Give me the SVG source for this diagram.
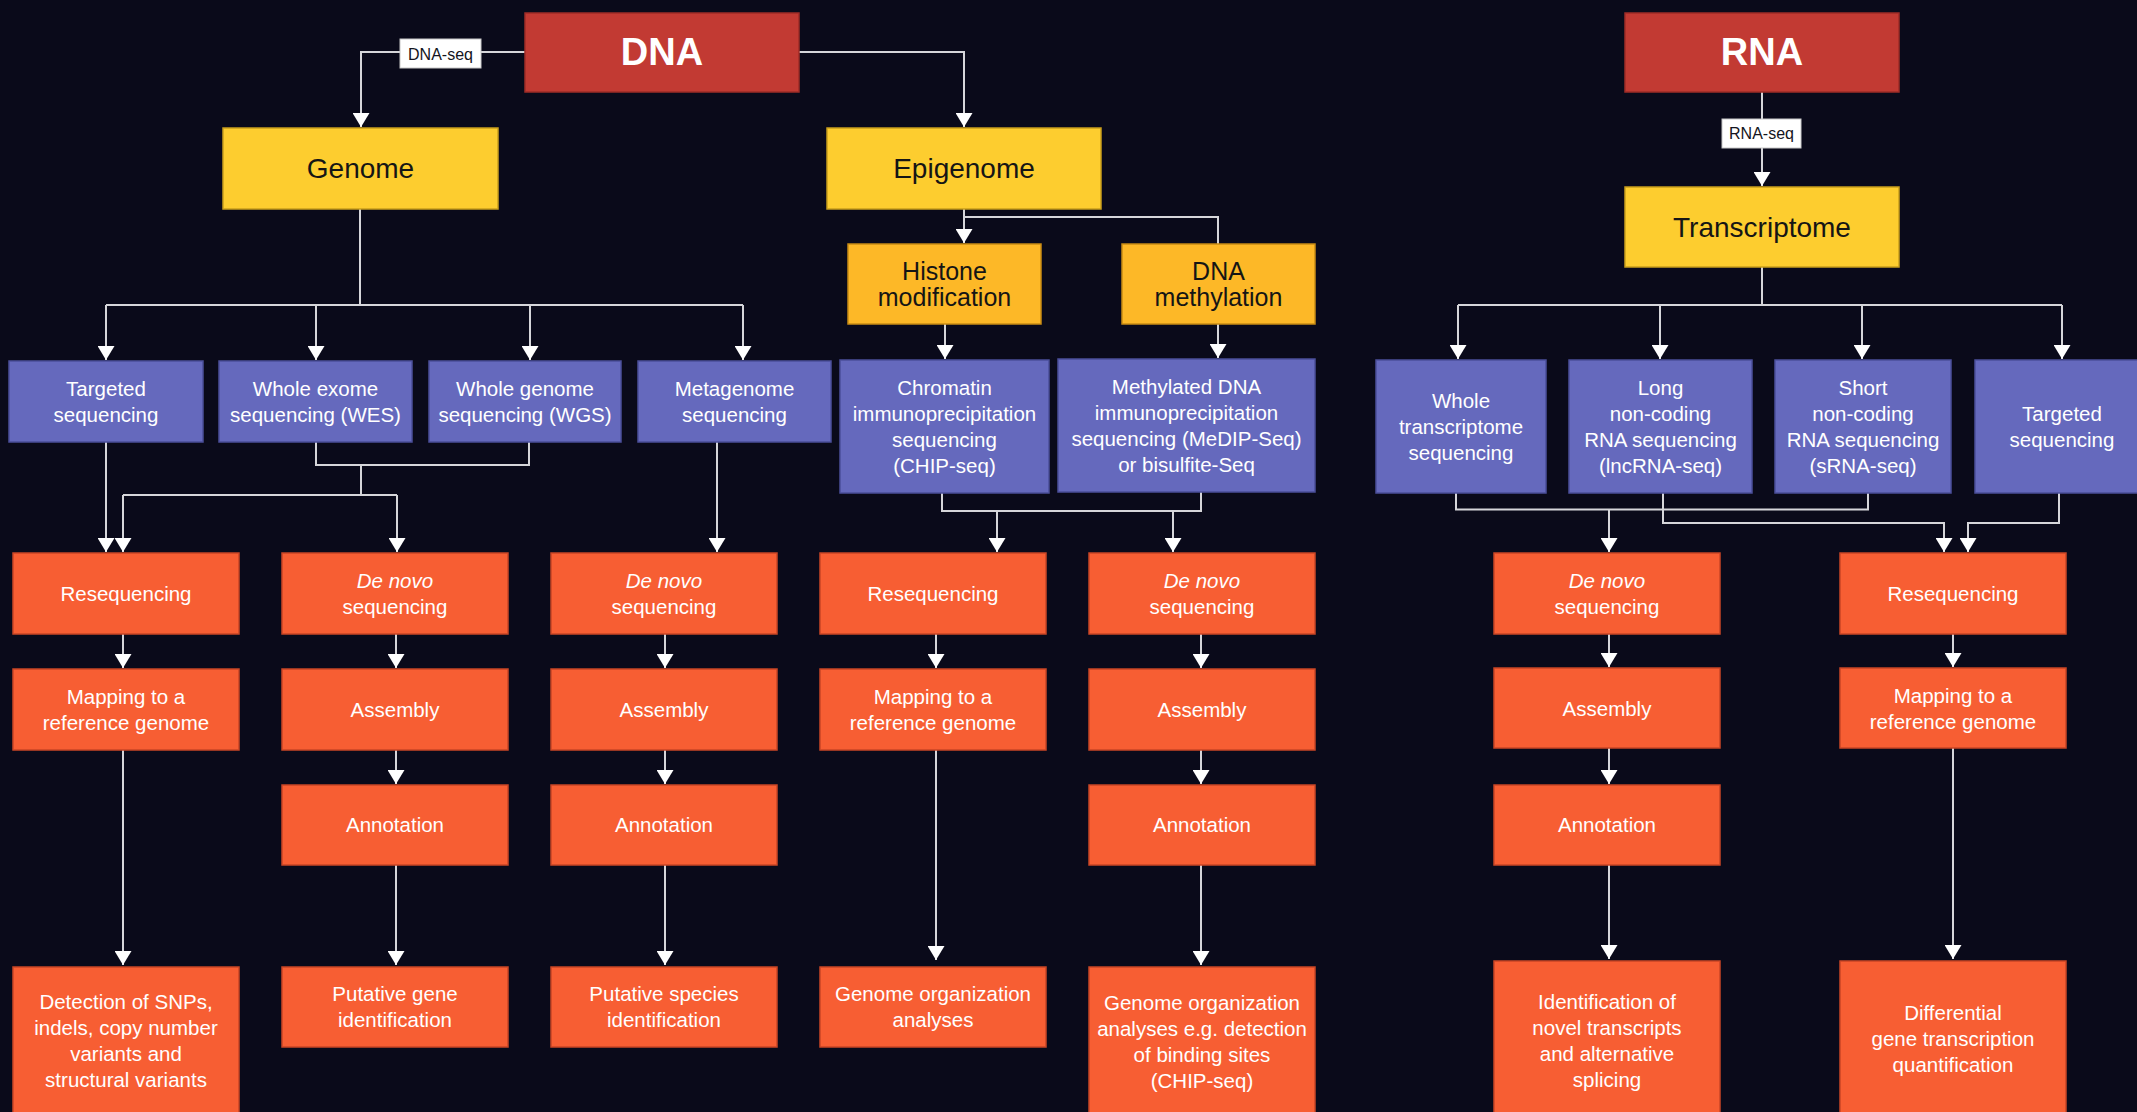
<svg xmlns="http://www.w3.org/2000/svg" width="2137" height="1112" viewBox="0 0 2137 1112">
  <defs>
    <style>
      text { font-family: "Liberation Sans", Arial, sans-serif; text-anchor: middle; }
      .red { fill: #c23a33; stroke: #9e2c27; stroke-width: 1.5; }
      .yel { fill: #fdcd2f; stroke: #c99e1c; stroke-width: 1.5; }
      .amb { fill: #fdb827; stroke: #c98c14; stroke-width: 1.5; }
      .pur { fill: #6569bd; stroke: #4b4f9a; stroke-width: 1.5; }
      .org { fill: #f75e33; stroke: #c94626; stroke-width: 1.5; }
      .big { font-size: 38px; font-weight: bold; fill: #ffffff; }
      .mid { font-size: 28px; fill: #151515; }
      .sub { font-size: 25px; fill: #151515; }
      .txt { font-size: 20.5px; fill: #ffffff; }
      .lbl { font-size: 16px; fill: #141420; }
      .lblbox { fill: #ffffff; stroke: #c8c8c8; stroke-width: 1; }
      .it { font-style: italic; }
      .wire { fill: none; stroke: #d6d6da; stroke-width: 2; }
      .arr { marker-end: url(#arrow); }
    </style>
    <marker id="arrow" viewBox="0 0 14 17" refX="14" refY="8.5" markerWidth="14" markerHeight="17" orient="auto" markerUnits="userSpaceOnUse">
      <path d="M0,0 L14,8.5 L0,17 Z" fill="#ffffff"/>
    </marker>
  </defs>

  <rect width="2137" height="1112" fill="#0a0a1a"/>

  <!-- connectors -->
  <g id="connectors">
    <!-- DNA branches -->
    <path class="wire arr" d="M525,52 H361 V127"/>
    <path class="wire arr" d="M799,52 H964 V127"/>
    <!-- RNA -->
    <path class="wire arr" d="M1762,92 V186"/>
    <!-- Genome fan-out -->
    <path class="wire" d="M360,209 V305 M106,305 H743"/>
    <path class="wire arr" d="M106,305 V360"/>
    <path class="wire arr" d="M316,305 V360"/>
    <path class="wire arr" d="M530,305 V360"/>
    <path class="wire arr" d="M743,305 V360"/>
    <!-- Epigenome -->
    <path class="wire arr" d="M964,209 V243"/>
    <path class="wire" d="M964,217 H1218 V244"/>
    <path class="wire arr" d="M945,324 V359"/>
    <path class="wire arr" d="M1218,324 V358"/>
    <!-- Transcriptome fan-out -->
    <path class="wire" d="M1762,267 V305 M1458,305 H2062"/>
    <path class="wire arr" d="M1458,305 V359"/>
    <path class="wire arr" d="M1660,305 V359"/>
    <path class="wire arr" d="M1862,305 V359"/>
    <path class="wire arr" d="M2062,305 V359"/>
    <!-- DNA purple to orange -->
    <path class="wire arr" d="M106,442 V552"/>
    <path class="wire" d="M316,442 V465 H529 V442 M361,465 V495 M123,495 H397"/>
    <path class="wire arr" d="M123,495 V552"/>
    <path class="wire arr" d="M397,495 V552"/>
    <path class="wire arr" d="M717,442 V552"/>
    <path class="wire" d="M942,493 V511 H1201 V492"/>
    <path class="wire arr" d="M997,511 V552"/>
    <path class="wire arr" d="M1173,511 V552"/>
    <!-- RNA purple to orange -->
    <path class="wire" d="M1456,493 V509.5 H1868 V493"/>
    <path class="wire arr" d="M1609,509.5 V552"/>
    <path class="wire arr" d="M1663,493 V523 H1944 V552"/>
    <path class="wire arr" d="M2059,493 V523 H1968 V552"/>
    <!-- column 1 -->
    <path class="wire arr" d="M123,634 V668"/>
    <path class="wire arr" d="M123,750 V965"/>
    <!-- column 2 -->
    <path class="wire arr" d="M396,634 V668"/>
    <path class="wire arr" d="M396,750 V784"/>
    <path class="wire arr" d="M396,865 V965"/>
    <!-- column 3 -->
    <path class="wire arr" d="M665,634 V668"/>
    <path class="wire arr" d="M665,750 V784"/>
    <path class="wire arr" d="M665,865 V965"/>
    <!-- column 4 -->
    <path class="wire arr" d="M936,634 V668"/>
    <path class="wire arr" d="M936,750 V960"/>
    <!-- column 5 -->
    <path class="wire arr" d="M1201,634 V668"/>
    <path class="wire arr" d="M1201,750 V784"/>
    <path class="wire arr" d="M1201,865 V965"/>
    <!-- column 6 -->
    <path class="wire arr" d="M1609,634 V667"/>
    <path class="wire arr" d="M1609,748 V784"/>
    <path class="wire arr" d="M1609,865 V959"/>
    <!-- column 7 -->
    <path class="wire arr" d="M1953,634 V667"/>
    <path class="wire arr" d="M1953,748 V959"/>
  </g>

  <!-- edge labels -->
  <g id="label-dnaseq">
    <rect class="lblbox" x="400" y="39" width="81" height="29"/>
    <text class="lbl" x="440.5" y="59.5">DNA-seq</text>
  </g>
  <g id="label-rnaseq">
    <rect class="lblbox" x="1722" y="119" width="79" height="29"/>
    <text class="lbl" x="1761.5" y="139">RNA-seq</text>
  </g>

  <!-- top level -->
  <g id="dna"><rect class="red" x="525" y="13" width="274" height="79"/><text class="big" x="662" y="65">DNA</text></g>
  <g id="rna"><rect class="red" x="1625" y="13" width="274" height="79"/><text class="big" x="1762" y="65">RNA</text></g>

  <g id="genome"><rect class="yel" x="223" y="128" width="275" height="81"/><text class="mid" x="360.5" y="178">Genome</text></g>
  <g id="epigenome"><rect class="yel" x="827" y="128" width="274" height="81"/><text class="mid" x="964" y="178">Epigenome</text></g>
  <g id="transcriptome"><rect class="yel" x="1625" y="187" width="274" height="80"/><text class="mid" x="1762" y="237">Transcriptome</text></g>

  <g id="histone"><rect class="amb" x="848" y="244" width="193" height="80"/>
    <text class="sub" x="944.5" y="280">Histone</text><text class="sub" x="944.5" y="306">modification</text></g>
  <g id="dna-methylation"><rect class="amb" x="1122" y="244" width="193" height="80"/>
    <text class="sub" x="1218.5" y="280">DNA</text><text class="sub" x="1218.5" y="306">methylation</text></g>

  <!-- sequencing approaches -->
  <g id="targeted-dna"><rect class="pur" x="9" y="361" width="194" height="81"/>
    <text class="txt" x="106" y="396">Targeted</text><text class="txt" x="106" y="422">sequencing</text></g>
  <g id="wes"><rect class="pur" x="219" y="361" width="193" height="81"/>
    <text class="txt" x="315.5" y="396">Whole exome</text><text class="txt" x="315.5" y="422">sequencing (WES)</text></g>
  <g id="wgs"><rect class="pur" x="429" y="361" width="192" height="81"/>
    <text class="txt" x="525" y="396">Whole genome</text><text class="txt" x="525" y="422">sequencing (WGS)</text></g>
  <g id="metagenome"><rect class="pur" x="638" y="361" width="193" height="81"/>
    <text class="txt" x="734.5" y="396">Metagenome</text><text class="txt" x="734.5" y="422">sequencing</text></g>
  <g id="chip-seq"><rect class="pur" x="840" y="360" width="209" height="133"/>
    <text class="txt" x="944.5" y="395">Chromatin</text><text class="txt" x="944.5" y="421">immunoprecipitation</text>
    <text class="txt" x="944.5" y="447">sequencing</text><text class="txt" x="944.5" y="473">(CHIP-seq)</text></g>
  <g id="medip-seq"><rect class="pur" x="1058" y="359" width="257" height="133"/>
    <text class="txt" x="1186.5" y="394">Methylated DNA</text><text class="txt" x="1186.5" y="420">immunoprecipitation</text>
    <text class="txt" x="1186.5" y="446">sequencing (MeDIP-Seq)</text><text class="txt" x="1186.5" y="472">or bisulfite-Seq</text></g>
  <g id="whole-transcriptome"><rect class="pur" x="1376" y="360" width="170" height="133"/>
    <text class="txt" x="1461" y="408">Whole</text><text class="txt" x="1461" y="434">transcriptome</text><text class="txt" x="1461" y="460">sequencing</text></g>
  <g id="lncrna-seq"><rect class="pur" x="1569" y="360" width="183" height="133"/>
    <text class="txt" x="1660.5" y="395">Long</text><text class="txt" x="1660.5" y="421">non-coding</text>
    <text class="txt" x="1660.5" y="447">RNA sequencing</text><text class="txt" x="1660.5" y="473">(lncRNA-seq)</text></g>
  <g id="srna-seq"><rect class="pur" x="1775" y="360" width="176" height="133"/>
    <text class="txt" x="1863" y="395">Short</text><text class="txt" x="1863" y="421">non-coding</text>
    <text class="txt" x="1863" y="447">RNA sequencing</text><text class="txt" x="1863" y="473">(sRNA-seq)</text></g>
  <g id="targeted-rna"><rect class="pur" x="1975" y="360" width="174" height="133"/>
    <text class="txt" x="2062" y="421">Targeted</text><text class="txt" x="2062" y="447">sequencing</text></g>

  <!-- column 1 -->
  <g id="c1-reseq"><rect class="org" x="13" y="553" width="226" height="81"/><text class="txt" x="126" y="601">Resequencing</text></g>
  <g id="c1-map"><rect class="org" x="13" y="669" width="226" height="81"/>
    <text class="txt" x="126" y="704">Mapping to a</text><text class="txt" x="126" y="730">reference genome</text></g>
  <g id="c1-detect"><rect class="org" x="13" y="967" width="226" height="150"/>
    <text class="txt" x="126" y="1009">Detection of SNPs,</text><text class="txt" x="126" y="1035">indels, copy number</text>
    <text class="txt" x="126" y="1061">variants and</text><text class="txt" x="126" y="1087">structural variants</text></g>

  <!-- column 2 -->
  <g id="c2-denovo"><rect class="org" x="282" y="553" width="226" height="81"/>
    <text class="txt it" x="395" y="588">De novo</text><text class="txt" x="395" y="614">sequencing</text></g>
  <g id="c2-assembly"><rect class="org" x="282" y="669" width="226" height="81"/><text class="txt" x="395" y="717">Assembly</text></g>
  <g id="c2-annot"><rect class="org" x="282" y="785" width="226" height="80"/><text class="txt" x="395" y="832">Annotation</text></g>
  <g id="c2-gene"><rect class="org" x="282" y="967" width="226" height="80"/>
    <text class="txt" x="395" y="1001">Putative gene</text><text class="txt" x="395" y="1027">identification</text></g>

  <!-- column 3 -->
  <g id="c3-denovo"><rect class="org" x="551" y="553" width="226" height="81"/>
    <text class="txt it" x="664" y="588">De novo</text><text class="txt" x="664" y="614">sequencing</text></g>
  <g id="c3-assembly"><rect class="org" x="551" y="669" width="226" height="81"/><text class="txt" x="664" y="717">Assembly</text></g>
  <g id="c3-annot"><rect class="org" x="551" y="785" width="226" height="80"/><text class="txt" x="664" y="832">Annotation</text></g>
  <g id="c3-species"><rect class="org" x="551" y="967" width="226" height="80"/>
    <text class="txt" x="664" y="1001">Putative species</text><text class="txt" x="664" y="1027">identification</text></g>

  <!-- column 4 -->
  <g id="c4-reseq"><rect class="org" x="820" y="553" width="226" height="81"/><text class="txt" x="933" y="601">Resequencing</text></g>
  <g id="c4-map"><rect class="org" x="820" y="669" width="226" height="81"/>
    <text class="txt" x="933" y="704">Mapping to a</text><text class="txt" x="933" y="730">reference genome</text></g>
  <g id="c4-genome-org"><rect class="org" x="820" y="967" width="226" height="80"/>
    <text class="txt" x="933" y="1001">Genome organization</text><text class="txt" x="933" y="1027">analyses</text></g>

  <!-- column 5 -->
  <g id="c5-denovo"><rect class="org" x="1089" y="553" width="226" height="81"/>
    <text class="txt it" x="1202" y="588">De novo</text><text class="txt" x="1202" y="614">sequencing</text></g>
  <g id="c5-assembly"><rect class="org" x="1089" y="669" width="226" height="81"/><text class="txt" x="1202" y="717">Assembly</text></g>
  <g id="c5-annot"><rect class="org" x="1089" y="785" width="226" height="80"/><text class="txt" x="1202" y="832">Annotation</text></g>
  <g id="c5-binding"><rect class="org" x="1089" y="967" width="226" height="150"/>
    <text class="txt" x="1202" y="1010">Genome organization</text><text class="txt" x="1202" y="1036">analyses e.g. detection</text>
    <text class="txt" x="1202" y="1062">of binding sites</text><text class="txt" x="1202" y="1088">(CHIP-seq)</text></g>

  <!-- column 6 -->
  <g id="c6-denovo"><rect class="org" x="1494" y="553" width="226" height="81"/>
    <text class="txt it" x="1607" y="588">De novo</text><text class="txt" x="1607" y="614">sequencing</text></g>
  <g id="c6-assembly"><rect class="org" x="1494" y="668" width="226" height="80"/><text class="txt" x="1607" y="716">Assembly</text></g>
  <g id="c6-annot"><rect class="org" x="1494" y="785" width="226" height="80"/><text class="txt" x="1607" y="832">Annotation</text></g>
  <g id="c6-novel"><rect class="org" x="1494" y="961" width="226" height="156"/>
    <text class="txt" x="1607" y="1009">Identification of</text><text class="txt" x="1607" y="1035">novel transcripts</text>
    <text class="txt" x="1607" y="1061">and alternative</text><text class="txt" x="1607" y="1087">splicing</text></g>

  <!-- column 7 -->
  <g id="c7-reseq"><rect class="org" x="1840" y="553" width="226" height="81"/><text class="txt" x="1953" y="601">Resequencing</text></g>
  <g id="c7-map"><rect class="org" x="1840" y="668" width="226" height="80"/>
    <text class="txt" x="1953" y="703">Mapping to a</text><text class="txt" x="1953" y="729">reference genome</text></g>
  <g id="c7-diff"><rect class="org" x="1840" y="961" width="226" height="156"/>
    <text class="txt" x="1953" y="1020">Differential</text><text class="txt" x="1953" y="1046">gene transcription</text>
    <text class="txt" x="1953" y="1072">quantification</text></g>
</svg>
